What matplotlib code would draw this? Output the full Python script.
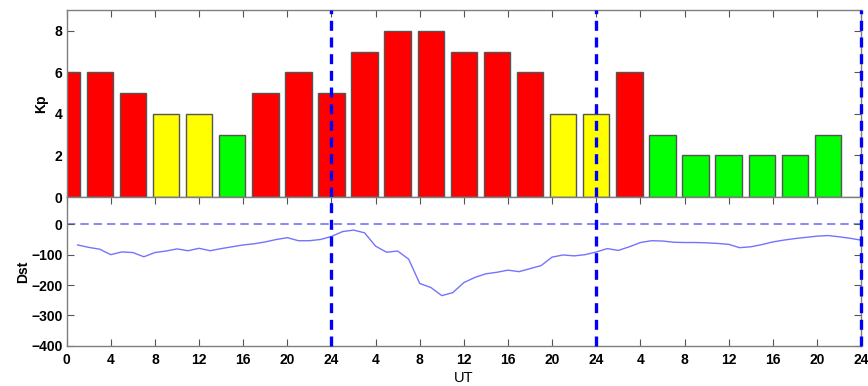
import matplotlib
matplotlib.use("Agg")
import matplotlib.pyplot as plt
import numpy as np

# Three-hourly Kp index (bar centres in hours from start of day 1)
kp_hours = [0, 3, 6, 9, 12, 15, 18, 21, 24, 27, 30, 33, 36, 39, 42, 45, 48, 51,
            54, 57, 60, 63, 66, 69]
kp_values = [6, 6, 5, 4, 4, 3, 5, 6, 5, 7, 8, 8, 7, 7, 6, 4, 4, 6,
             3, 2, 2, 2, 2, 3]

# Hourly Dst index (nT), hours 1..72
dst_hours = list(range(1, 73))
dst_values = [-68, -76, -82, -100, -91, -93, -107, -93, -88, -81, -87, -79,
              -87, -80, -74, -68, -64, -58, -50, -44, -54, -54, -50, -40,
              -24, -19, -28, -72, -92, -88, -115, -195, -208, -235, -225, -192,
              -175, -163, -158, -151, -156, -146, -136, -108, -101, -104, -100, -91,
              -80, -86, -74, -60, -54, -55, -59, -60, -60, -61, -63, -66,
              -77, -74, -67, -58, -52, -47, -43, -39, -37, -41, -46, -52]

day_boundaries = [24, 48, 72]
xtick_pos = list(range(0, 73, 4))
xtick_labels = ["0", "4", "8", "12", "16", "20", "24", "4", "8", "12", "16", "20",
                "24", "4", "8", "12", "16", "20", "24"]


def kp_color(v):
    if v >= 5:
        return "#ff0000"
    if v == 4:
        return "#ffff00"
    return "#00ff00"


plt.rcParams["font.family"] = ["Liberation Sans", "DejaVu Sans"]
spine_col = "#7f7f7f"

fig = plt.figure(figsize=(8.68, 3.86), dpi=100)
ax1 = fig.add_axes([0.0768, 0.4896, 0.9152, 0.4845])
ax2 = fig.add_axes([0.0768, 0.1044, 0.9152, 0.3852])

# Kp bars
ax1.bar(kp_hours, kp_values, width=2.4, color=[kp_color(v) for v in kp_values],
        edgecolor="#555555", linewidth=1.0, zorder=2)
ax1.set_xlim(0, 72)
ax1.set_ylim(0, 9)
ax1.set_yticks([0, 2, 4, 6, 8])
ax1.set_xticks(xtick_pos)
ax1.tick_params(labelbottom=False)
ax1.set_ylabel("Kp", fontsize=10, fontweight="bold", labelpad=5)

# Dst curve
ax2.plot(dst_hours, dst_values, color="#7373ff", linewidth=1.0, zorder=2)
ax2.axhline(0, color="#7373ff", linewidth=1.2, linestyle=(0, (5, 3)), zorder=1)
ax2.set_xlim(0, 72)
ax2.set_ylim(-400, 90)
ax2.set_yticks([-400, -300, -200, -100, 0])
ax2.set_xticks(xtick_pos)
ax2.set_xticklabels(xtick_labels)
ax2.set_ylabel("Dst", fontsize=10, fontweight="bold", labelpad=1)
ax2.set_xlabel("UT", fontsize=10.5, labelpad=3)

for ax in (ax1, ax2):
    for d in day_boundaries:
        ax.axvline(d, color="#0000ff", linewidth=2.4, linestyle=(0, (3, 2)),
                   zorder=3, clip_on=False)
    for s in ax.spines.values():
        s.set_color(spine_col)
        s.set_linewidth(1.0)
    ax.tick_params(direction="in", top=True, right=True, length=5,
                   color="#555555", labelsize=10, pad=3)
    ax.tick_params(axis="x", pad=5)
    for lbl in ax.get_xticklabels() + ax.get_yticklabels():
        lbl.set_fontweight("bold")

fig.savefig("out.png", dpi=100)
